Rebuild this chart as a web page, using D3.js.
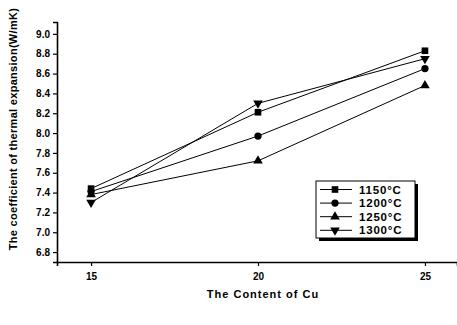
<!DOCTYPE html>
<html><head><meta charset="utf-8">
<script src="https://cdn.jsdelivr.net/npm/d3@7"></script>
<style>body{margin:0;background:#fff}svg{display:block}</style>
</head><body>
<svg id="c" width="457" height="325"></svg>
<script>
const xValues = [15, 20, 25];
const seriesNames = ["1150°C", "1200°C", "1250°C", "1300°C"];
const s1150 = [7.44, 8.21, 8.83];
const s1200 = [7.41, 7.97, 8.65];
const s1250 = [7.38, 7.72, 8.48];
const s1300 = [7.30, 8.30, 8.75];
const yTicks = [6.8, 7.0, 7.2, 7.4, 7.6, 7.8, 8.0, 8.2, 8.4, 8.6, 8.8, 9.0];
const xTicks = [15, 20, 25];
const symbols = ["square", "circle", "triangle", "triangleDown"];

const svg = d3.select("#c");
const x = d3.scaleLinear().domain([13.98, 25.96]).range([57, 457]);
const y = d3.scaleLinear().domain([6.7, 9.12]).range([262, 22]);
const font = "Arial, 'Liberation Sans', sans-serif";

const xAxis = svg.append("g").attr("transform", "translate(0,262)")
  .call(d3.axisBottom(x).tickValues(xTicks).tickFormat(d3.format("d")).tickSizeOuter(0).tickSize(4));
const yAxis = svg.append("g").attr("transform", "translate(57,0)")
  .call(d3.axisLeft(y).tickValues(yTicks).tickFormat(d3.format(".1f")).tickSizeOuter(0).tickSize(4));
[xAxis, yAxis].forEach(g => {
  g.selectAll("path").attr("stroke", "#000").attr("stroke-width", 1.6);
  g.selectAll("line").attr("stroke", "#000").attr("stroke-width", 1.2);
  g.selectAll("text").attr("font-family", font).attr("font-weight", "bold").attr("font-size", 10).attr("fill", "#000");
});
xAxis.selectAll("text").attr("dy", "1.05em");

svg.append("text").attr("x", 263).attr("y", 298).attr("text-anchor", "middle")
  .attr("font-family", font).attr("font-weight", "bold").attr("font-size", 11).attr("letter-spacing", 1)
  .text("The Content of Cu");
svg.append("text").attr("transform", "translate(17,129) rotate(-90)").attr("text-anchor", "middle")
  .attr("font-family", font).attr("font-weight", "bold").attr("font-size", 11).attr("letter-spacing", 0.3)
  .text("The coefficient of thermal expansion(W/mK)");

const data = [s1150, s1200, s1250, s1300];
const symType = {square: d3.symbolSquare, circle: d3.symbolCircle, triangle: d3.symbolTriangle, triangleDown: d3.symbolTriangle};
function sym(g, kind, cx, cy) {
  const size = kind === "circle" ? 42 : kind === "square" ? 44 : 40;
  g.append("path").attr("d", d3.symbol().type(symType[kind]).size(size)())
    .attr("transform", `translate(${cx},${cy})` + (kind === "triangleDown" ? " rotate(180)" : ""))
    .attr("fill", "#000");
}
const line = d3.line().x((d, i) => x(xValues[i])).y(d => y(d));
data.forEach((s, k) => {
  svg.append("path").attr("d", line(s)).attr("fill", "none").attr("stroke", "#000").attr("stroke-width", 1);
  s.forEach((v, i) => sym(svg, symbols[k], x(xValues[i]), y(v)));
});

// legend
const lg = svg.append("g");
const lx = 316, ly = 181, lw = 99, lh = 57;
lg.append("rect").attr("x", lx + 3).attr("y", ly + 3).attr("width", lw).attr("height", lh).attr("fill", "#000");
lg.append("rect").attr("x", lx).attr("y", ly).attr("width", lw).attr("height", lh).attr("fill", "#fff").attr("stroke", "#000").attr("stroke-width", 1);
seriesNames.forEach((n, k) => {
  const yy = ly + 8.5 + k * 13.6;
  lg.append("line").attr("x1", lx + 4).attr("x2", lx + 36).attr("y1", yy).attr("y2", yy).attr("stroke", "#000").attr("stroke-width", 1);
  sym(lg, symbols[k], lx + 19, yy);
  lg.append("text").attr("x", lx + 43).attr("y", yy + 4).attr("font-family", font).attr("font-weight", "bold")
    .attr("font-size", 11.5).attr("letter-spacing", 0.8).text(n);
});
</script>
</body></html>
